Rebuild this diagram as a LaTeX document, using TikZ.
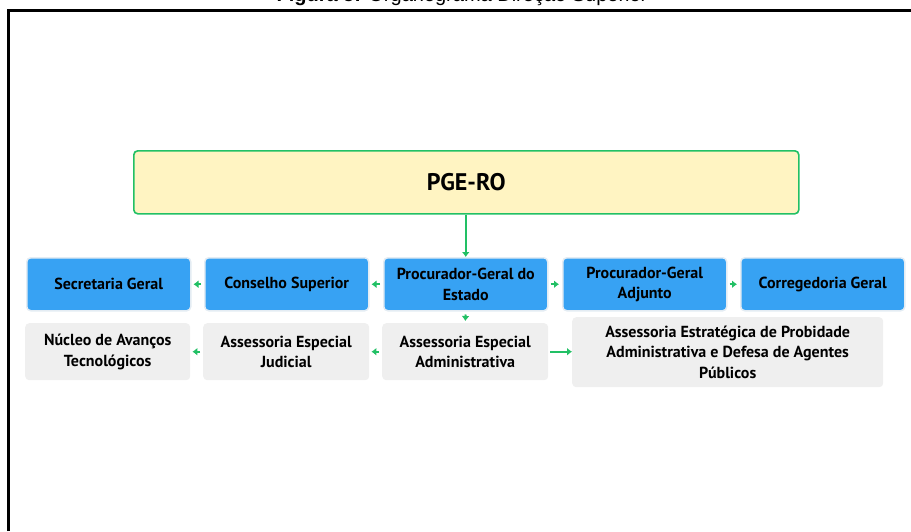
\documentclass[tikz,border=0pt]{standalone}
\usepackage{fontspec}
\setmainfont{PT Sans}
\newfontfamily\titlefont{Liberation Sans}
\usetikzlibrary{arrows.meta}
\definecolor{gr}{HTML}{22C065}
\definecolor{bl}{HTML}{37A2F3}
\definecolor{blo}{HTML}{E4ECF3}
\definecolor{gy}{HTML}{EFEFEF}
\definecolor{yl}{HTML}{FFF4C2}
\tikzset{
  box/.style={anchor=north west, align=center, inner sep=0pt, rounded corners=4pt,
    font=\bfseries\fontsize{16}{20.5}\selectfont},
  bluebox/.style={box, fill=bl, draw=blo, line width=1.5pt},
  graybox/.style={box, fill=gy},
  topbox/.style={box, fill=yl, draw=gr, line width=1.6pt, font=\bfseries\fontsize{24}{28}\selectfont},
  arr/.style={draw=gr, line width=2pt, -{Latex[length=5pt,width=8pt]}},
  frame/.style={line width=3pt, black}
}
\begin{document}
\begin{tikzpicture}[x=1pt,y=-1pt]
\useasboundingbox (0,0) rectangle (911,531);
\begin{scope}
\clip (0,0) rectangle (911,531);
\node[anchor=base, font=\titlefont\fontsize{20}{22}\selectfont] (title) at (462,1) {\textbf{Figura 5:} Organograma Direção Superior};
\end{scope}
\coordinate (ftl) at (8.5,10);
\coordinate (ftr) at (911,10);
\coordinate (fbl) at (8.5,531);
\draw[frame] (fbl) -- (ftl) -- (ftr);

\node[topbox, minimum width=665, minimum height=63] (pge) at (133,150) {PGE-RO};

\node[bluebox, minimum width=164, minimum height=53] (sec) at (26,257) {Secretaria Geral};
\node[bluebox, minimum width=164, minimum height=53] (cons) at (204,257) {Conselho Superior};
\node[bluebox, minimum width=164, minimum height=53] (proc) at (383,257) {Procurador-Geral do\\Estado};
\node[bluebox, minimum width=164, minimum height=53] (adj) at (562,257) {Procurador-Geral\\Adjunto};
\node[bluebox, minimum width=164, minimum height=53] (corr) at (740,257) {Corregedoria Geral};

\node[graybox, minimum width=165, minimum height=57] (nuc) at (25,323) {Núcleo de Avanços\\Tecnológicos};
\node[graybox, minimum width=166, minimum height=57] (jud) at (203,323) {Assessoria Especial\\Judicial};
\node[graybox, minimum width=166, minimum height=57] (adm) at (382,323) {Assessoria Especial\\Administrativa};
\node[graybox, minimum width=311, minimum height=70] (est) at (572,317) {Assessoria Estratégica de Probidade\\Administrativa e Defesa de Agentes\\Públicos};

\draw[arr] (pge.south -| proc.north) -- (proc.north);
\draw[arr, shorten <=3pt, shorten >=2pt] (proc.west) -- (cons.east);
\draw[arr, shorten <=3pt, shorten >=2pt] (cons.west) -- (sec.east);
\draw[arr, shorten <=2pt, shorten >=3pt] (proc.east) -- (adj.west);
\draw[arr, shorten <=2pt, shorten >=3pt] (adj.east) -- (corr.west);
\draw[arr, shorten <=3pt, shorten >=2pt] (proc.south) -- (adm.north);
\draw[arr, shorten <=3pt, shorten >=2pt] (adm.west) -- (jud.east);
\draw[arr, shorten <=3pt, shorten >=2pt] (jud.west) -- (nuc.east);
\draw[arr, shorten <=2pt, shorten >=0pt] (adm.east) -- (adm.east -| est.west);
\end{tikzpicture}
\end{document}
